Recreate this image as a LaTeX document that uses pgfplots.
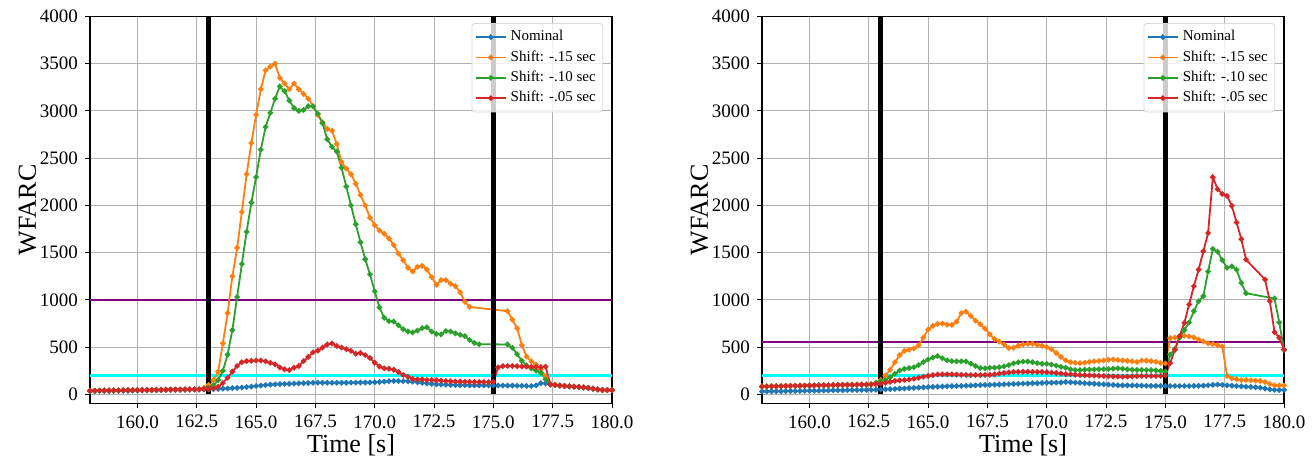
\documentclass[border=0pt]{standalone}
\usepackage{fontspec}
\setmainfont{Liberation Serif}
\usepackage{pgfplots}
\pgfplotsset{compat=1.18}

\definecolor{tabblue}{HTML}{1F77B4}
\definecolor{taborange}{HTML}{FF7F0E}
\definecolor{tabgreen}{HTML}{2CA02C}
\definecolor{tabred}{HTML}{D62728}
\definecolor{mplpurple}{HTML}{800080}
\definecolor{mplcyan}{HTML}{00FFFF}
\definecolor{gridgray}{HTML}{B0B0B0}

\pgfplotsset{
  wfarc/.style={
    width=261pt, height=193.4pt, scale only axis,
    xmin=158, xmax=180, ymin=-95, ymax=4000,
    xtick={160,162.5,165,167.5,170,172.5,175,177.5,180},
    xticklabels={160.0,162.5,165.0,167.5,170.0,172.5,175.0,177.5,180.0},
    ytick={0,500,1000,1500,2000,2500,3000,3500,4000},
    scaled ticks=false,
    /pgf/number format/1000 sep={},
    /pgf/number format/assume math mode=true,
    tick align=outside, xtick pos=bottom, ytick pos=left,
    major tick length=2.5pt,
    tick style={black, line width=0.5pt},
    axis line style={black, line width=0.6pt},
    grid=major, grid style={gridgray, line width=0.5pt},
    ticklabel style={font=\fontsize{9.5}{11}\selectfont},
    label style={font=\fontsize{13}{15}\selectfont},
    xlabel={Time [s]}, ylabel={WFARC},
    xlabel style={at={(axis description cs:0.5,0)}, anchor=center, yshift=-21pt},
    ylabel style={at={(axis description cs:-0.12,0.5)}, anchor=center},
    legend cell align=left,
    legend style={at={(axis description cs:0.983,0.983)}, anchor=north east,
      font=\fontsize{7.5}{8.5}\selectfont, fill=white, fill opacity=0.8,
      text opacity=1, draw=black!15, rounded corners=1.5pt,
      row sep=-0.6pt, inner sep=1.5pt},
    legend image code/.code={
      \draw[mark repeat=2, mark phase=2] plot coordinates {(0pt,0pt) (7.5pt,0pt) (15pt,0pt)};},
    every axis plot/.append style={line width=0.9pt, mark=*, mark size=0.9pt},
  },
  hl/.style={forget plot, no marks, line width=1.2pt},
  vl/.style={forget plot, no marks, black, line width=2.2pt},
}

\begin{document}
\begin{tikzpicture}
\useasboundingbox (0pt,0pt) rectangle (657.5pt,-232pt);

% ---------------- left panel ----------------
\begin{axis}[wfarc, at={(45pt,-201.65pt)}, anchor=south west]
  \addplot[hl, mplpurple] coordinates {(158,1000) (180,1000)};
  \addplot[hl, mplcyan] coordinates {(158,200) (180,200)};

  % nominal
  \addplot[tabblue] coordinates {
    (158.0,32)(158.2,33)(158.4,34)(158.6,34)(158.8,35)(159.0,36)(159.2,37)(159.4,38)
    (159.6,38)(159.8,39)(160.0,40)(160.2,41)(160.4,42)(160.6,42)(160.8,43)(161.0,44)
    (161.2,45)(161.4,46)(161.6,46)(161.8,47)(162.0,48)(162.2,49)(162.4,50)(162.6,50)
    (162.8,51)(163.0,52)(163.2,55)(163.4,57)(163.6,60)(163.8,62)(164.0,65)(164.2,68)
    (164.4,72)(164.6,77)(164.8,82)(165.0,88)(165.2,93)(165.4,98)(165.6,103)(165.8,106)
    (166.0,108)(166.2,110)(166.4,112)(166.6,114)(166.8,116)(167.0,118)(167.2,120)(167.4,122)
    (167.6,123)(167.8,123)(168.0,123)(168.2,122)(168.4,122)(168.6,123)(168.8,123)(169.0,124)
    (169.2,124)(169.4,125)(169.6,125)(169.8,126)(170.0,128)(170.2,131)(170.4,135)(170.6,139)
    (170.8,141)(171.0,140)(171.2,139)(171.4,138)(171.6,134)(171.8,128)(172.0,122)(172.2,116)
    (172.4,110)(172.6,106)(172.8,104)(173.0,102)(173.2,100)(173.4,98)(173.6,97)(173.8,96)
    (174.0,95)(174.2,95)(174.4,95)(174.6,95)(174.8,94)(175.0,93)(175.2,93)(175.4,93)
    (175.6,92)(175.8,92)(176.0,91)(176.2,90)(176.4,89)(176.6,88)(176.8,95)(177.0,118)
    (177.2,115)(177.4,104)(177.6,98)(177.8,92)(178.0,87)(178.2,84)(178.4,80)(178.6,76)
    (178.8,72)(179.0,67)(179.2,59)(179.4,51)(179.6,45)(179.8,45)(180.0,44)
  };
  \addlegendentry{Nominal}

  % shift -.15
  \addplot[taborange] coordinates {
    (158.0,38)(158.2,39)(158.4,39)(158.6,40)(158.8,41)(159.0,41)(159.2,42)(159.4,43)
    (159.6,43)(159.8,44)(160.0,45)(160.2,46)(160.4,46)(160.6,47)(160.8,48)(161.0,48)
    (161.2,49)(161.4,50)(161.6,50)(161.8,51)(162.0,52)(162.2,53)(162.4,53)(162.6,54)
    (162.8,70)(163.0,100)(163.2,150)(163.4,240)(163.6,540)(163.8,860)(164.0,1250)(164.2,1550)
    (164.4,1930)(164.6,2330)(164.8,2660)(165.0,2960)(165.2,3230)(165.4,3430)(165.6,3470)(165.8,3500)
    (166.0,3350)(166.2,3290)(166.4,3230)(166.6,3290)(166.8,3230)(167.0,3180)(167.2,3130)(167.4,3050)
    (167.6,2960)(167.8,2880)(168.0,2810)(168.2,2790)(168.4,2650)(168.6,2460)(168.8,2390)(169.0,2330)
    (169.2,2230)(169.4,2110)(169.6,2000)(169.8,1870)(170.0,1790)(170.2,1735)(170.4,1700)(170.6,1650)
    (170.8,1580)(171.0,1490)(171.2,1420)(171.4,1340)(171.6,1300)(171.8,1350)(172.0,1360)(172.2,1320)
    (172.4,1240)(172.6,1160)(172.8,1210)(173.0,1210)(173.2,1170)(173.4,1145)(173.6,1080)(173.8,980)
    (174.0,925)(175.6,880)(175.8,790)(176.0,700)(176.2,520)(176.4,400)(176.6,350)(176.8,315)
    (177.0,260)(177.2,190)(177.4,105)(177.6,100)(177.8,93)(178.0,88)(178.2,85)(178.4,81)
    (178.6,78)(178.8,74)(179.0,68)(179.2,60)(179.4,52)(179.6,46)(179.8,45)(180.0,44)
  };
  \addlegendentry{Shift: -.15 sec}

  % shift -.10
  \addplot[tabgreen] coordinates {
    (158.0,38)(158.2,39)(158.4,39)(158.6,40)(158.8,41)(159.0,41)(159.2,42)(159.4,43)
    (159.6,43)(159.8,44)(160.0,45)(160.2,46)(160.4,46)(160.6,47)(160.8,48)(161.0,48)
    (161.2,49)(161.4,50)(161.6,50)(161.8,51)(162.0,52)(162.2,53)(162.4,53)(162.6,54)
    (162.8,58)(163.0,65)(163.2,95)(163.4,150)(163.6,250)(163.8,420)(164.0,680)(164.2,1030)
    (164.4,1380)(164.6,1720)(164.8,2030)(165.0,2300)(165.2,2590)(165.4,2830)(165.6,2980)(165.8,3130)
    (166.0,3260)(166.2,3210)(166.4,3110)(166.6,3030)(166.8,3000)(167.0,3010)(167.2,3050)(167.4,3050)
    (167.6,2970)(167.8,2870)(168.0,2700)(168.2,2620)(168.4,2570)(168.6,2400)(168.8,2200)(169.0,2000)
    (169.2,1800)(169.4,1610)(169.6,1430)(169.8,1270)(170.0,1090)(170.2,920)(170.4,810)(170.6,775)
    (170.8,770)(171.0,730)(171.2,690)(171.4,665)(171.6,655)(171.8,675)(172.0,700)(172.2,710)
    (172.4,665)(172.6,640)(172.8,635)(173.0,670)(173.2,665)(173.4,645)(173.6,630)(173.8,616)
    (174.0,575)(174.2,545)(174.4,530)(175.6,528)(175.8,493)(176.0,425)(176.2,355)(176.4,305)
    (176.6,275)(176.8,250)(177.0,228)(177.2,158)(177.4,103)(177.6,100)(177.8,93)(178.0,88)
    (178.2,85)(178.4,81)(178.6,78)(178.8,74)(179.0,68)(179.2,60)(179.4,52)(179.6,46)
    (179.8,45)(180.0,44)
  };
  \addlegendentry{Shift: -.10 sec}

  % shift -.05
  \addplot[tabred] coordinates {
    (158.0,38)(158.2,39)(158.4,39)(158.6,40)(158.8,41)(159.0,41)(159.2,42)(159.4,43)
    (159.6,43)(159.8,44)(160.0,45)(160.2,46)(160.4,46)(160.6,47)(160.8,48)(161.0,48)
    (161.2,49)(161.4,50)(161.6,50)(161.8,51)(162.0,52)(162.2,53)(162.4,53)(162.6,54)
    (162.8,55)(163.0,58)(163.2,62)(163.4,80)(163.6,120)(163.8,175)(164.0,240)(164.2,300)
    (164.4,340)(164.6,352)(164.8,355)(165.0,358)(165.2,358)(165.4,350)(165.6,334)(165.8,317)
    (166.0,285)(166.2,265)(166.4,257)(166.6,282)(166.8,300)(167.0,352)(167.2,395)(167.4,445)
    (167.6,462)(167.8,495)(168.0,528)(168.2,539)(168.4,512)(168.6,495)(168.8,478)(169.0,460)
    (169.2,430)(169.4,438)(169.6,415)(169.8,385)(170.0,335)(170.2,295)(170.4,275)(170.6,271)
    (170.8,260)(171.0,235)(171.2,205)(171.4,185)(171.6,163)(171.8,158)(172.0,157)(172.2,152)
    (172.4,151)(172.6,150)(172.8,145)(173.0,141)(173.2,138)(173.4,136)(173.6,134)(173.8,133)
    (174.0,132)(174.2,131)(174.4,131)(174.6,130)(174.8,130)(175.0,131)(175.2,285)(175.4,298)
    (175.6,300)(175.8,300)(176.0,298)(176.2,296)(176.4,294)(176.6,292)(176.8,290)(177.0,288)
    (177.2,292)(177.4,105)(177.6,100)(177.8,93)(178.0,88)(178.2,85)(178.4,81)(178.6,78)
    (178.8,74)(179.0,68)(179.2,60)(179.4,52)(179.6,46)(179.8,45)(180.0,44)
  };
  \addlegendentry{Shift: -.05 sec}

  \addplot[vl] coordinates {(163,0) (163,4000)};
  \addplot[vl] coordinates {(175,0) (175,4000)};
\end{axis}

% ---------------- right panel ----------------
\begin{axis}[wfarc, at={(381pt,-201.65pt)}, anchor=south west]
  \addplot[hl, mplpurple] coordinates {(158,555) (180,555)};
  \addplot[hl, mplcyan] coordinates {(158,200) (180,200)};

  % nominal
  \addplot[tabblue] coordinates {
    (158.0,30)(158.2,31)(158.4,32)(158.6,32)(158.8,33)(159.0,34)(159.2,35)(159.4,35)
    (159.6,36)(159.8,37)(160.0,38)(160.2,38)(160.4,39)(160.6,40)(160.8,41)(161.0,42)
    (161.2,42)(161.4,43)(161.6,44)(161.8,45)(162.0,45)(162.2,46)(162.4,47)(162.6,48)
    (162.8,49)(163.0,51)(163.2,53)(163.4,55)(163.6,57)(163.8,60)(164.0,62)(164.2,65)
    (164.4,68)(164.6,71)(164.8,74)(165.0,77)(165.2,79)(165.4,81)(165.6,83)(165.8,85)
    (166.0,87)(166.2,88)(166.4,89)(166.6,91)(166.8,93)(167.0,95)(167.2,97)(167.4,99)
    (167.6,101)(167.8,102)(168.0,104)(168.2,106)(168.4,108)(168.6,110)(168.8,111)(169.0,113)
    (169.2,115)(169.4,117)(169.6,118)(169.8,120)(170.0,122)(170.2,123)(170.4,124)(170.6,125)
    (170.8,130)(171.0,128)(171.2,124)(171.4,122)(171.6,118)(171.8,115)(172.0,112)(172.2,109)
    (172.4,106)(172.6,103)(172.8,99)(173.0,96)(173.2,95)(173.4,95)(173.6,94)(173.8,93)
    (174.0,92)(174.2,91)(174.4,90)(174.6,90)(174.8,89)(175.0,88)(175.2,88)(175.4,88)
    (175.6,88)(175.8,88)(176.0,88)(176.2,89)(176.4,90)(176.6,92)(176.8,96)(177.0,100)
    (177.2,104)(177.4,100)(177.6,95)(177.8,92)(178.0,88)(178.2,85)(178.4,81)(178.6,78)
    (178.8,74)(179.0,70)(179.2,62)(179.4,52)(179.6,47)(179.8,46)(180.0,45)
  };
  \addlegendentry{Nominal}

  % shift -.15
  \addplot[taborange] coordinates {
    (158.0,83)(158.2,84)(158.4,85)(158.6,86)(158.8,87)(159.0,88)(159.2,89)(159.4,90)
    (159.6,91)(159.8,92)(160.0,93)(160.2,94)(160.4,95)(160.6,96)(160.8,97)(161.0,98)
    (161.2,99)(161.4,100)(161.6,100)(161.8,101)(162.0,102)(162.2,103)(162.4,104)(162.6,105)
    (162.8,120)(163.0,150)(163.2,200)(163.4,260)(163.6,340)(163.8,415)(164.0,460)(164.2,472)
    (164.4,485)(164.6,520)(164.8,600)(165.0,685)(165.2,725)(165.4,745)(165.6,750)(165.8,738)
    (166.0,735)(166.2,770)(166.4,860)(166.6,875)(166.8,830)(167.0,780)(167.2,742)(167.4,695)
    (167.6,635)(167.8,585)(168.0,558)(168.2,528)(168.4,490)(168.6,493)(168.8,515)(169.0,527)
    (169.2,534)(169.4,535)(169.6,524)(169.8,514)(170.0,500)(170.2,478)(170.4,438)(170.6,395)
    (170.8,360)(171.0,340)(171.2,334)(171.4,330)(171.6,335)(171.8,343)(172.0,349)(172.2,354)
    (172.4,359)(172.6,366)(172.8,368)(173.0,363)(173.2,359)(173.4,354)(173.6,350)(173.8,342)
    (174.0,358)(174.2,357)(174.4,352)(174.6,345)(174.8,333)(175.0,326)(175.2,595)(175.4,600)
    (175.6,608)(175.8,620)(176.0,612)(176.2,602)(176.4,580)(176.6,560)(176.8,540)(177.0,532)
    (177.2,522)(177.4,504)(177.6,195)(177.8,170)(178.0,160)(178.2,151)(178.4,151)(178.6,148)
    (178.8,145)(179.0,141)(179.2,130)(179.4,110)(179.6,95)(179.8,95)(180.0,95)
  };
  \addlegendentry{Shift: -.15 sec}

  % shift -.10
  \addplot[tabgreen] coordinates {
    (158.0,83)(158.2,84)(158.4,85)(158.6,86)(158.8,87)(159.0,88)(159.2,89)(159.4,90)
    (159.6,91)(159.8,92)(160.0,93)(160.2,94)(160.4,95)(160.6,96)(160.8,97)(161.0,98)
    (161.2,99)(161.4,100)(161.6,100)(161.8,101)(162.0,102)(162.2,103)(162.4,104)(162.6,105)
    (162.8,123)(163.0,141)(163.2,152)(163.4,180)(163.6,218)(163.8,252)(164.0,270)(164.2,278)
    (164.4,287)(164.6,310)(164.8,342)(165.0,368)(165.2,390)(165.4,405)(165.6,382)(165.8,360)
    (166.0,351)(166.2,349)(166.4,350)(166.6,348)(166.8,325)(167.0,299)(167.2,278)(167.4,275)
    (167.6,281)(167.8,282)(168.0,287)(168.2,296)(168.4,310)(168.6,328)(168.8,339)(169.0,346)
    (169.2,347)(169.4,340)(169.6,330)(169.8,324)(170.0,322)(170.2,315)(170.4,304)(170.6,291)
    (170.8,281)(171.0,264)(171.2,257)(171.4,257)(171.6,260)(171.8,262)(172.0,264)(172.2,265)
    (172.4,266)(172.6,268)(172.8,272)(173.0,276)(173.2,270)(173.4,264)(173.6,260)(173.8,258)
    (174.0,258)(174.2,257)(174.4,256)(174.6,254)(174.8,248)(175.0,240)(175.2,420)(175.4,480)
    (175.6,600)(175.8,680)(176.0,760)(176.2,880)(176.4,985)(176.6,1040)(176.8,1300)(177.0,1539)
    (177.2,1510)(177.4,1420)(177.6,1340)(177.8,1355)(178.0,1320)(178.2,1180)(178.4,1070)
    (179.6,1015)(179.8,760)(180.0,470)
  };
  \addlegendentry{Shift: -.10 sec}

  % shift -.05
  \addplot[tabred] coordinates {
    (158.0,83)(158.2,84)(158.4,85)(158.6,86)(158.8,87)(159.0,88)(159.2,89)(159.4,90)
    (159.6,91)(159.8,92)(160.0,93)(160.2,94)(160.4,95)(160.6,96)(160.8,97)(161.0,98)
    (161.2,99)(161.4,100)(161.6,100)(161.8,101)(162.0,102)(162.2,103)(162.4,104)(162.6,105)
    (162.8,108)(163.0,113)(163.2,122)(163.4,132)(163.6,142)(163.8,148)(164.0,152)(164.2,157)
    (164.4,165)(164.6,175)(164.8,186)(165.0,195)(165.2,203)(165.4,210)(165.6,211)(165.8,211)
    (166.0,211)(166.2,209)(166.4,207)(166.6,205)(166.8,204)(167.0,204)(167.2,204)(167.4,205)
    (167.6,206)(167.8,212)(168.0,220)(168.2,226)(168.4,232)(168.6,236)(168.8,238)(169.0,239)
    (169.2,239)(169.4,238)(169.6,237)(169.8,236)(170.0,234)(170.2,230)(170.4,226)(170.6,220)
    (170.8,213)(171.0,211)(171.2,207)(171.4,204)(171.6,202)(171.8,200)(172.0,198)(172.2,196)
    (172.4,194)(172.6,192)(172.8,190)(173.0,188)(173.2,187)(173.4,188)(173.6,190)(173.8,193)
    (174.0,194)(174.2,194)(174.4,194)(174.6,194)(174.8,194)(175.0,200)(175.2,330)(175.4,470)
    (175.6,616)(175.8,757)(176.0,951)(176.2,1144)(176.4,1320)(176.6,1514)(176.8,1708)(177.0,2299)
    (177.2,2172)(177.4,2120)(177.6,2100)(177.8,1996)(178.0,1820)(178.2,1644)(178.4,1426)
    (179.2,1215)(179.4,986)(179.6,658)(179.8,599)(180.0,475)
  };
  \addlegendentry{Shift: -.05 sec}

  \addplot[vl] coordinates {(163,0) (163,4000)};
  \addplot[vl] coordinates {(175,0) (175,4000)};
\end{axis}
\end{tikzpicture}
\end{document}
